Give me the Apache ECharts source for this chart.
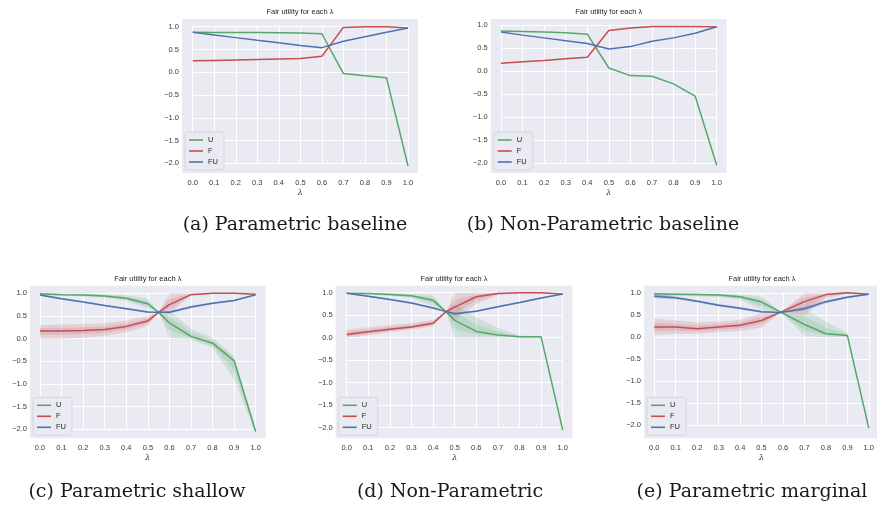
<!DOCTYPE html>
<html>
<head>
<meta charset="utf-8">
<script src="https://cdn.jsdelivr.net/npm/echarts@6/dist/echarts.min.js"></script>
<style>
  html, body { margin: 0; padding: 0; background: #fff; }
  #chart { width: 877px; height: 508px; }
</style>
</head>
<body>
<div id="chart"></div>
<script>
// lambda grid and curves
const lamA = [0, 0.1, 0.2, 0.3, 0.4, 0.5, 0.6, 0.7, 0.8, 0.9, 1.0];
const uA = [0.88, 0.875, 0.87, 0.87, 0.865, 0.86, 0.845, -0.03, -0.075, -0.12, -2.06];
const fA = [0.25, 0.26, 0.27, 0.28, 0.29, 0.30, 0.35, 0.985, 1.0, 1.0, 0.97];
const fuA = [0.88, 0.82, 0.76, 0.70, 0.645, 0.585, 0.54, 0.68, 0.78, 0.88, 0.97];

const lamB = [0, 0.1, 0.2, 0.3, 0.4, 0.5, 0.6, 0.7, 0.8, 0.9, 1.0];
const uB = [0.87, 0.86, 0.85, 0.83, 0.80, 0.065, -0.10, -0.115, -0.28, -0.545, -2.05];
const fB = [0.17, 0.20, 0.23, 0.265, 0.30, 0.88, 0.935, 0.97, 0.97, 0.97, 0.96];
const fuB = [0.85, 0.78, 0.72, 0.66, 0.60, 0.48, 0.53, 0.645, 0.72, 0.82, 0.96];

const lamC = [0, 0.1, 0.2, 0.3, 0.4, 0.5, 0.55, 0.6, 0.7, 0.8, 0.9, 1.0];
const uC = [0.99, 0.97, 0.96, 0.94, 0.89, 0.77, 0.58, 0.35, 0.05, -0.10, -0.49, -2.05];
const uCLo = [0.97, 0.95, 0.93, 0.90, 0.83, 0.66, 0.58, 0.02, -0.02, -0.2, -0.9, -2.1];
const uCHi = [1.0, 1.0, 0.99, 0.98, 0.96, 0.88, 0.58, 0.62, 0.22, 0.02, -0.38, -2.0];
const fC = [0.17, 0.17, 0.18, 0.20, 0.27, 0.39, 0.58, 0.75, 0.97, 1.0, 1.0, 0.98];
const fCLo = [0.0, 0.0, 0.02, 0.06, 0.14, 0.28, 0.58, 0.55, 0.95, 0.99, 0.99, 0.98];
const fCHi = [0.3, 0.31, 0.32, 0.34, 0.40, 0.50, 0.58, 1.0, 1.0, 1.0, 1.0, 0.98];
const fuC = [0.96, 0.88, 0.81, 0.73, 0.66, 0.585, 0.58, 0.58, 0.70, 0.78, 0.84, 0.97];
const fuCLo = [0.94, 0.86, 0.79, 0.71, 0.64, 0.56, 0.58, 0.55, 0.67, 0.76, 0.82, 0.96];
const fuCHi = [0.99, 0.90, 0.83, 0.75, 0.68, 0.61, 0.58, 0.61, 0.73, 0.80, 0.86, 0.98];

const lamD = [0, 0.1, 0.2, 0.3, 0.4, 0.46, 0.5, 0.6, 0.7, 0.8, 0.9, 1.0];
const uD = [0.99, 0.98, 0.96, 0.93, 0.83, 0.58, 0.385, 0.14, 0.06, 0.02, 0.02, -2.05];
const uDLo = [0.98, 0.96, 0.93, 0.88, 0.70, 0.58, 0.0, 0.0, 0.0, 0.0, 0.0, -2.1];
const uDHi = [1.0, 1.0, 0.99, 0.97, 0.95, 0.58, 0.75, 0.45, 0.22, 0.05, 0.03, -2.0];
const fD = [0.07, 0.13, 0.19, 0.24, 0.32, 0.58, 0.68, 0.91, 0.98, 1.0, 1.0, 0.97];
const fDLo = [0.0, 0.05, 0.12, 0.18, 0.25, 0.58, 0.40, 0.75, 0.95, 0.99, 0.99, 0.97];
const fDHi = [0.18, 0.23, 0.28, 0.32, 0.40, 0.58, 1.0, 1.0, 1.0, 1.0, 1.0, 0.97];
const fuD = [0.99, 0.92, 0.85, 0.77, 0.66, 0.58, 0.53, 0.59, 0.69, 0.78, 0.88, 0.97];
const fuDLo = [0.98, 0.90, 0.83, 0.75, 0.64, 0.58, 0.50, 0.57, 0.67, 0.76, 0.86, 0.96];
const fuDHi = [1.0, 0.94, 0.87, 0.79, 0.68, 0.58, 0.56, 0.61, 0.71, 0.80, 0.90, 0.98];

const lamE = [0, 0.1, 0.2, 0.3, 0.4, 0.5, 0.59, 0.7, 0.8, 0.9, 1.0];
const uE = [0.99, 0.98, 0.97, 0.96, 0.92, 0.80, 0.57, 0.29, 0.08, 0.04, -2.07];
const uELo = [0.93, 0.94, 0.93, 0.91, 0.86, 0.62, 0.57, 0.02, 0.0, 0.0, -2.1];
const uEHi = [1.0, 1.0, 1.0, 0.99, 0.97, 0.93, 0.57, 0.65, 0.35, 0.1, -2.0];
const fE = [0.23, 0.23, 0.19, 0.23, 0.27, 0.38, 0.57, 0.81, 0.97, 1.01, 0.98];
const fELo = [0.05, 0.08, 0.08, 0.11, 0.14, 0.22, 0.57, 0.50, 0.88, 0.99, 0.98];
const fEHi = [0.42, 0.38, 0.34, 0.36, 0.40, 0.55, 0.57, 1.0, 1.0, 1.02, 0.98];
const fuE = [0.935, 0.90, 0.82, 0.73, 0.66, 0.58, 0.565, 0.65, 0.81, 0.91, 0.98];
const fuELo = [0.88, 0.86, 0.79, 0.70, 0.63, 0.55, 0.565, 0.60, 0.76, 0.88, 0.97];
const fuEHi = [1.0, 0.93, 0.85, 0.76, 0.69, 0.61, 0.565, 0.70, 0.85, 0.94, 0.99];

const xTicks = { min: 0, max: 1, interval: 0.1 };
const yTicks = { min: -2, max: 1, interval: 0.5 };

const GREEN = '#55a868', RED = '#c44e52', BLUE = '#4c72b0';

// panel layout: bg = axes background box, inner = tick extents (x0,y0,x1,y1)
const panels = [
    { bg: [182, 19, 418, 173], inner: [192.7, 26.7, 408, 163.3], cap: '(a) Parametric baseline', capX: 295, capY: 225,
      lam: lamA, lines: [uA, fA, fuA] },
    { bg: [490.7, 19, 726.7, 173], inner: [501, 25, 716.7, 163], cap: '(b) Non-Parametric baseline', capX: 603, capY: 225,
      lam: lamB, lines: [uB, fB, fuB] },
    { bg: [30, 285.7, 265.7, 438.3], inner: [40, 293.3, 255.7, 429.3], cap: '(c) Parametric shallow', capX: 137, capY: 492,
      lam: lamC, lines: [uC, fC, fuC], bands: [[uCLo, uCHi], [fCLo, fCHi], [fuCLo, fuCHi]] },
    { bg: [335.7, 285.7, 572.3, 438.3], inner: [346.7, 292.7, 562.7, 427.7], cap: '(d) Non-Parametric', capX: 450, capY: 492,
      lam: lamD, lines: [uD, fD, fuD], bands: [[uDLo, uDHi], [fDLo, fDHi], [fuDLo, fuDHi]] },
    { bg: [644, 285.7, 880, 438.3], inner: [654.3, 293.3, 869.3, 425], cap: '(e) Parametric marginal', capX: 752, capY: 492,
      lam: lamE, lines: [uE, fE, fuE], bands: [[uELo, uEHi], [fELo, fEHi], [fuELo, fuEHi]] }
];

const names = ['U', 'F', 'FU'];
const colors = [GREEN, RED, BLUE];
const bandFill = ['rgba(85,168,104,0.17)', 'rgba(196,78,82,0.17)', 'rgba(76,114,176,0.2)'];

const tickFont = { fontFamily: 'Liberation Sans', fontSize: 7.5, color: '#3a3a3a' };

function fmtY(v) {
    return (v < 0 ? '\u2212' : '') + Math.abs(v).toFixed(1);
}

let grid = [], xAxis = [], yAxis = [], series = [], legend = [], graphic = [];

panels.forEach((p, k) => {
    const [bx0, by0, bx1, by1] = p.bg;
    const [ix0, iy0, ix1, iy1] = p.inner;
    grid.push({ left: ix0, top: iy0, width: ix1 - ix0, height: iy1 - iy0, show: false });
    xAxis.push({
        type: 'value', gridIndex: k, ...xTicks,
        axisLine: { show: false }, axisTick: { show: false },
        splitLine: { lineStyle: { color: '#ffffff', width: 1 } },
        axisLabel: { ...tickFont, margin: by1 - iy1 + 6, formatter: v => v.toFixed(1), showMaxLabel: true, showMinLabel: true },
        name: 'λ', nameLocation: 'middle', nameGap: by1 - iy1 + 16,
        nameTextStyle: { fontFamily: 'DejaVu Serif', fontStyle: 'italic', fontSize: 8, color: '#3a3a3a' }
    });
    yAxis.push({
        type: 'value', gridIndex: k, ...yTicks,
        axisLine: { show: false }, axisTick: { show: false },
        splitLine: { lineStyle: { color: '#ffffff', width: 1 } },
        axisLabel: { ...tickFont, margin: ix0 - bx0 + 3, formatter: fmtY, showMaxLabel: true, showMinLabel: true }
    });

    // axes background
    graphic.push({
        type: 'rect', z: -10, silent: true,
        shape: { x: bx0, y: by0, width: bx1 - bx0, height: by1 - by0 },
        style: { fill: '#eaeaf2' }
    });
    // subplot title
    graphic.push({
        type: 'text', x: (bx0 + bx1) / 2, y: by0 - 7, silent: true,
        style: { text: 'Fair utility for each λ', align: 'center', verticalAlign: 'middle',
                 font: '7.5px "Liberation Sans"', fill: '#262626' }
    });
    // caption
    graphic.push({
        type: 'text', x: p.capX, y: p.capY, silent: true,
        style: { text: p.cap, align: 'center', verticalAlign: 'middle',
                 font: '19px "DejaVu Serif"', fill: '#1a1a1a' }
    });

    // spread of the runs: full range, plus a denser core toward the mean
    if (p.bands) {
        p.bands.forEach((b, j) => {
            const lam = p.lam, lo = b[0], hi = b[1], mid = p.lines[j];
            series.push({
                type: 'custom', name: names[j] + ' band', xAxisIndex: k, yAxisIndex: k,
                silent: true, z: 1,
                data: [[lam[0], lo[0]]],
                renderItem: function (params, api) {
                    const outer = [], core = [];
                    for (let i = 0; i < lam.length; i++) {
                        outer.push(api.coord([lam[i], lo[i]]));
                        core.push(api.coord([lam[i], (lo[i] + mid[i]) / 2]));
                    }
                    for (let i = lam.length - 1; i >= 0; i--) {
                        outer.push(api.coord([lam[i], hi[i]]));
                        core.push(api.coord([lam[i], (hi[i] + mid[i]) / 2]));
                    }
                    return {
                        type: 'group',
                        children: [
                            { type: 'polygon', shape: { points: outer }, style: { fill: bandFill[j] } },
                            { type: 'polygon', shape: { points: core }, style: { fill: bandFill[j] } }
                        ]
                    };
                }
            });
        });
    }

    p.lines.forEach((vals, j) => {
        series.push({
            type: 'line', name: names[j], xAxisIndex: k, yAxisIndex: k,
            data: p.lam.map((x, i) => [x, vals[i]]),
            showSymbol: false, symbol: 'none', clip: false, z: 3 + j,
            lineStyle: { color: colors[j], width: 1.5 },
            itemStyle: { color: colors[j] }
        });
    });

    legend.push({
        data: names, orient: 'vertical', left: bx0 + 3, top: by1 - 41,
        backgroundColor: '#eaeaf2', borderColor: '#cfcfd6', borderWidth: 0.8, borderRadius: 2,
        padding: [4, 6, 4, 4], itemGap: 3, itemWidth: 14, itemHeight: 1.6, icon: 'rect',
        textStyle: { fontFamily: 'Liberation Sans', fontSize: 7.5, color: '#262626' },
        selectedMode: false
    });
});

const myChart = echarts.init(document.getElementById('chart'));
myChart.setOption({
    backgroundColor: '#ffffff',
    animation: false,
    grid: grid,
    xAxis: xAxis,
    yAxis: yAxis,
    legend: legend,
    graphic: graphic,
    series: series
});
</script>
</body>
</html>
